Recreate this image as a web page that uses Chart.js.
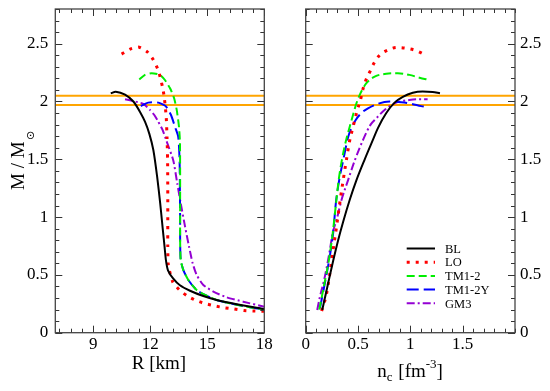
<!DOCTYPE html>
<html>
<head>
<meta charset="utf-8">
<script src="https://cdn.jsdelivr.net/npm/chart.js@4.4.0/dist/chart.umd.min.js"></script>
<style>
  body { margin: 0; background: #fff; }
  #wrap { position: relative; width: 550px; height: 391px; }
  canvas { position: absolute; top: 0; }
  #mr { left: 0; }
  #mn { left: 275px; }
</style>
</head>
<body>
<div id="wrap">
  <canvas id="mr" width="275" height="391"></canvas>
  <canvas id="mn" width="275" height="391"></canvas>
</div>
<script>
// tick labels
var R_TICKS = [9, 12, 15, 18];
var NC_TICKS = [0, 0.5, 1, 1.5];
var M_TICKS = [0, 0.5, 1, 1.5, 2, 2.5];
// observed 2 Msun band
var MASS_BAND = [1.97, 2.05];

// mass-radius curves (R in km, M in Msun)
var BL_R = [9.92, 10.18, 10.67, 11.11, 11.46, 11.72, 11.95, 12.16, 12.36, 12.52, 12.66, 12.75, 12.82, 12.93, 13.2, 13.56, 14.09, 14.79, 15.49, 16.55, 17.77, 18.0];
var BL_M = [2.07, 2.085, 2.06, 2.0, 1.91, 1.825, 1.72, 1.58, 1.35, 1.12, 0.89, 0.745, 0.63, 0.54, 0.47, 0.41, 0.363, 0.317, 0.283, 0.246, 0.211, 0.205];
var LO_R = [10.49, 10.97, 11.41, 11.84, 12.16, 12.42, 12.65, 12.74, 12.84, 12.88, 12.91, 12.92, 12.92, 12.92, 12.95, 13.18, 13.53, 13.92, 14.35, 14.83, 15.41, 15.88, 16.41, 16.93, 17.42, 18.0];
var LO_M = [2.41, 2.455, 2.47, 2.43, 2.36, 2.27, 2.12, 2.03, 1.86, 1.69, 1.5, 1.2, 0.95, 0.75, 0.585, 0.44, 0.37, 0.32, 0.283, 0.254, 0.231, 0.216, 0.205, 0.192, 0.188, 0.185];
var TM12_R = [11.42, 11.72, 12.07, 12.51, 12.77, 13.04, 13.25, 13.39, 13.51, 13.56, 13.57, 13.57, 13.57, 13.6, 13.74, 14.0, 14.44, 14.88, 15.49, 16.37, 17.25, 18.0];
var TM12_M = [2.19, 2.23, 2.245, 2.23, 2.186, 2.114, 2.03, 1.927, 1.78, 1.65, 1.4, 1.1, 0.8, 0.629, 0.542, 0.456, 0.369, 0.326, 0.283, 0.248, 0.22, 0.2];
var TM12Y_R = [11.5, 11.89, 12.42, 12.81, 13.09, 13.3, 13.47, 13.54, 13.56, 13.57, 13.57, 13.6, 13.74, 14.0, 14.44, 14.88, 15.49, 16.37, 17.25, 18.0];
var TM12Y_M = [1.96, 1.99, 1.99, 1.96, 1.883, 1.78, 1.695, 1.5, 1.2, 0.95, 0.8, 0.629, 0.542, 0.456, 0.369, 0.326, 0.283, 0.248, 0.22, 0.2];
var GM3_R = [10.67, 10.93, 11.63, 11.98, 12.21, 12.42, 12.64, 12.85, 13.21, 13.42, 13.6, 13.83, 14.04, 14.23, 14.44, 14.79, 15.32, 16.02, 16.89, 18.0];
var GM3_M = [2.02, 2.01, 1.98, 1.927, 1.883, 1.825, 1.757, 1.66, 1.49, 1.29, 1.12, 0.917, 0.744, 0.6, 0.499, 0.413, 0.355, 0.306, 0.268, 0.225];

// mass vs central density (n_c in fm^-3)
var BL_NC = [0.158, 0.215, 0.262, 0.31, 0.358, 0.421, 0.485, 0.564, 0.643, 0.69, 0.77, 0.849, 0.928, 1.023, 1.118, 1.213, 1.283];
var BL_MN = [0.196, 0.43, 0.62, 0.8, 0.96, 1.15, 1.32, 1.5, 1.67, 1.77, 1.9, 1.99, 2.04, 2.075, 2.086, 2.083, 2.072];
var LO_NC = [0.152, 0.2, 0.231, 0.262, 0.295, 0.33, 0.36, 0.39, 0.42, 0.447, 0.469, 0.494, 0.523, 0.542, 0.573, 0.611, 0.652, 0.706, 0.785, 0.871, 0.966, 1.055, 1.137];
var LO_MN = [0.188, 0.34, 0.513, 0.716, 0.92, 1.15, 1.33, 1.5, 1.66, 1.76, 1.84, 1.93, 2.01, 2.09, 2.18, 2.253, 2.33, 2.4, 2.445, 2.467, 2.46, 2.44, 2.405];
var TM12_NC = [0.13, 0.18, 0.222, 0.258, 0.29, 0.315, 0.345, 0.39, 0.414, 0.452, 0.485, 0.523, 0.58, 0.659, 0.77, 0.88, 0.991, 1.087, 1.18];
var TM12_MN = [0.2, 0.43, 0.63, 0.86, 1.12, 1.32, 1.49, 1.68, 1.76, 1.883, 1.985, 2.07, 2.158, 2.215, 2.24, 2.245, 2.23, 2.206, 2.186];
var TM12Y_NC = [0.136, 0.183, 0.224, 0.262, 0.288, 0.32, 0.358, 0.405, 0.437, 0.478, 0.532, 0.595, 0.69, 0.801, 0.913, 1.008, 1.103, 1.165];
var TM12Y_MN = [0.211, 0.428, 0.629, 0.86, 1.12, 1.32, 1.49, 1.69, 1.77, 1.84, 1.9, 1.94, 1.98, 1.999, 1.993, 1.98, 1.96, 1.95];
var GM3_NC = [0.11, 0.136, 0.183, 0.231, 0.257, 0.295, 0.342, 0.405, 0.469, 0.548, 0.62, 0.675, 0.754, 0.865, 0.991, 1.087, 1.165];
var GM3_MN = [0.196, 0.311, 0.485, 0.716, 0.86, 0.975, 1.148, 1.32, 1.49, 1.668, 1.8, 1.855, 1.927, 1.99, 2.013, 2.02, 2.02];

var EOS = [
    {label: "BL",     color: "#000000", width: 2, dash: []},
    {label: "LO",     color: "#ff0000", width: 3, dash: [3, 6]},
    {label: "TM1-2",  color: "#00ee00", width: 2, dash: [8, 4]},
    {label: "TM1-2Y", color: "#0000ff", width: 2, dash: [12, 5]},
    {label: "GM3",    color: "#9400d3", width: 2, dash: [8, 3, 2, 3]}
];

function pts(xs, ys) {
    return xs.map(function (x, i) { return {x: x, y: ys[i]}; });
}

Chart.defaults.font.family = '"Liberation Serif", "Times New Roman", serif';
Chart.defaults.color = "#000";

// frame with inward ticks on all four sides
function makeFrame(xMajor, xStep, yMajor, yStep) {
    function each(major, step, min, max, fn) {
        var base = major[0];
        var k0 = Math.ceil((min - base) / step - 1e-9), k1 = Math.floor((max - base) / step + 1e-9);
        for (var k = k0; k <= k1; k++) {
            var v = base + k * step;
            var isMajor = major.some(function (m) { return Math.abs(m - v) < 1e-6; });
            fn(v, isMajor ? 7 : 4);
        }
    }
    return {
        id: "frame",
        afterDraw: function (chart) {
            var ctx = chart.ctx, a = chart.chartArea;
            var xs = chart.scales.x, ys = chart.scales.y;
            ctx.save();
            ctx.fillStyle = "#333";
            each(xMajor, xStep, xs.min, xs.max, function (v, len) {
                var p = Math.round(xs.getPixelForValue(v));
                ctx.fillRect(p, a.bottom - len, 1, len);
                ctx.fillRect(p, a.top, 1, len);
            });
            each(yMajor, yStep, ys.min, ys.max, function (v, len) {
                var p = Math.round(ys.getPixelForValue(v));
                ctx.fillRect(a.left, p, len, 1);
                ctx.fillRect(a.right - len, p, len, 1);
            });
            ctx.strokeStyle = "#444";
            ctx.setLineDash([]);
            ctx.lineWidth = 1.3;
            ctx.strokeRect(a.left, a.top, a.right - a.left, a.bottom - a.top);
            ctx.restore();
        }
    };
}

function makeDatasets(curves, xMin, xMax, smooth) {
    var ds = curves.map(function (c, i) {
        var e = EOS[i];
        var d = {
            label: e.label, data: c, showLine: true, pointRadius: 0,
            borderColor: e.color, borderWidth: e.width, borderDash: e.dash,
            tension: 0.2, fill: false, order: i
        };
        if (smooth) d.cubicInterpolationMode = "monotone";
        return d;
    });
    MASS_BAND.forEach(function (m) {
        ds.push({
            data: [{x: xMin, y: m}, {x: xMax, y: m}], showLine: true, pointRadius: 0,
            borderColor: "#ffa500", borderWidth: 2, order: 10
        });
    });
    return ds;
}

function setTicks(list) {
    return function (scale) { scale.ticks = list.map(function (v) { return {value: v}; }); };
}
function fitX(s) { s.height = 58.3; s.paddingLeft = 0; s.paddingRight = 0; }
function fitY(w) {
    return function (s) { s.width = w; s.paddingTop = 0; s.paddingBottom = 0; };
}

var fontTick = {size: 17};
function label(v) { return String(v); }

// left: M vs R
new Chart(document.getElementById("mr"), {
    type: "scatter",
    data: {
        datasets: makeDatasets([
            pts(BL_R, BL_M), pts(LO_R, LO_M), pts(TM12_R, TM12_M), pts(TM12Y_R, TM12Y_M), pts(GM3_R, GM3_M)
        ], 7, 18, false)
    },
    options: {
        responsive: false, animation: false,
        layout: {padding: {left: 0, right: 10.7, top: 9, bottom: 0}},
        plugins: {legend: {display: false}, tooltip: {enabled: false}},
        scales: {
            x: {
                type: "linear", min: 7, max: 18,
                grid: {display: false, drawTicks: false}, border: {display: false},
                afterBuildTicks: setTicks(R_TICKS), afterFit: fitX,
                ticks: {font: fontTick, padding: 2, maxRotation: 0, autoSkip: false, callback: label}
            },
            y: {
                type: "linear", min: 0, max: 2.8,
                grid: {display: false, drawTicks: false}, border: {display: false},
                afterBuildTicks: setTicks(M_TICKS), afterFit: fitY(55.3),
                ticks: {font: fontTick, padding: 7, autoSkip: false, callback: label}
            }
        }
    },
    plugins: [makeFrame(R_TICKS, 0.6, M_TICKS, 0.1), {
        id: "titlesLeft",
        afterDraw: function (chart) {
            var ctx = chart.ctx;
            ctx.save();
            ctx.fillStyle = "#000";
            ctx.font = '19px "Liberation Serif"';
            ctx.textAlign = "center";
            ctx.textBaseline = "alphabetic";
            ctx.fillText("R [km]", 159, 369);
            ctx.translate(23.5, 190);
            ctx.rotate(-Math.PI / 2);
            ctx.textAlign = "left";
            ctx.fillText("M / M", 0, 0);
            var w = ctx.measureText("M / M").width;
            ctx.font = '11px "DejaVu Sans"';
            ctx.fillText("\u2299", w + 1.5, 10);
            ctx.restore();
        }
    }]
});

// right: M vs n_c
new Chart(document.getElementById("mn"), {
    type: "scatter",
    data: {
        datasets: makeDatasets([
            pts(BL_NC, BL_MN), pts(LO_NC, LO_MN), pts(TM12_NC, TM12_MN), pts(TM12Y_NC, TM12Y_MN), pts(GM3_NC, GM3_MN)
        ], 0, 2, true)
    },
    options: {
        responsive: false, animation: false,
        layout: {padding: {left: 30.7, right: 0, top: 9, bottom: 0}},
        plugins: {legend: {display: false}, tooltip: {enabled: false}},
        scales: {
            x: {
                type: "linear", min: 0, max: 2,
                grid: {display: false, drawTicks: false}, border: {display: false},
                afterBuildTicks: setTicks(NC_TICKS), afterFit: fitX,
                ticks: {font: fontTick, padding: 2, maxRotation: 0, autoSkip: false, callback: label}
            },
            y: {
                type: "linear", position: "right", min: 0, max: 2.8,
                grid: {display: false, drawTicks: false}, border: {display: false},
                afterBuildTicks: setTicks(M_TICKS), afterFit: fitY(35),
                ticks: {font: fontTick, padding: 5, autoSkip: false, callback: label}
            }
        }
    },
    plugins: [makeFrame(NC_TICKS, 0.1, M_TICKS, 0.1), {
        id: "titlesRight",
        afterDraw: function (chart) {
            var ctx = chart.ctx;
            ctx.save();
            ctx.fillStyle = "#000";
            // axis title n_c [fm^-3]
            var x = 102.3, y = 376.5;
            var big = '19px "Liberation Serif"', small = '13px "Liberation Serif"';
            var parts = [["n", big, 0], ["c", small, 4], [" [fm", big, 0], ["-3", small, -9], ["]", big, 0]];
            ctx.textBaseline = "alphabetic";
            ctx.textAlign = "left";
            parts.forEach(function (p) {
                ctx.font = p[1];
                ctx.fillText(p[0], x, y + p[2]);
                x += ctx.measureText(p[0]).width + (p[0] === "c" ? 1 : 0);
            });
            // legend
            ctx.font = '12.5px "Liberation Serif"';
            ctx.textBaseline = "middle";
            EOS.forEach(function (e, i) {
                var ly = 248.5 + i * 13.7;
                ctx.beginPath();
                ctx.strokeStyle = e.color;
                ctx.lineWidth = e.width;
                ctx.setLineDash(e.dash);
                ctx.moveTo(131.7, ly);
                ctx.lineTo(160, ly);
                ctx.stroke();
                ctx.setLineDash([]);
                ctx.fillText(e.label, 170, ly + 1);
            });
            ctx.restore();
        }
    }]
});
</script>
</body>
</html>
